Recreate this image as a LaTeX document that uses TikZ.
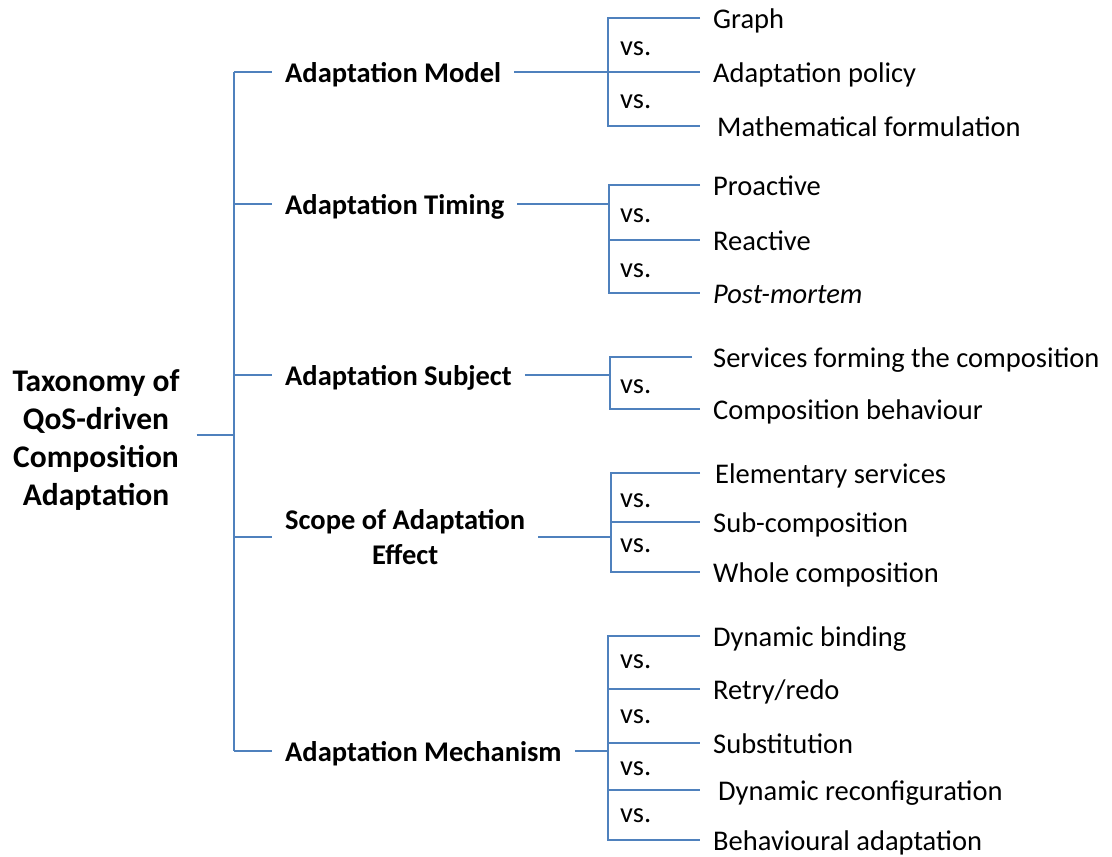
\documentclass[tikz,border=0pt]{standalone}
\usepackage{fontspec}
\setmainfont{Carlito}
\definecolor{linkblue}{HTML}{4F81BD}
\begin{document}
\begin{tikzpicture}[x=1pt,y=-1pt,
  link/.style={draw=linkblue, line width=1.6pt, line join=miter},
  rootlabel/.style={font=\bfseries\fontsize{31.5}{38}\selectfont, align=center, inner xsep=17pt, inner ysep=0pt},
  cat/.style={font=\bfseries\fontsize{28.5}{35}\selectfont, anchor=west, inner xsep=13pt, inner ysep=0pt, text height=21pt, text depth=0pt},
  cattwo/.style={font=\bfseries\fontsize{28.5}{35}\selectfont, align=center, anchor=west, inner xsep=13pt, inner ysep=0pt},
  leaf/.style={font=\fontsize{28.5}{34}\selectfont, anchor=west, inner xsep=13pt, inner ysep=0pt, text height=21pt, text depth=0pt},
  versus/.style={font=\fontsize{28.5}{34}\selectfont, anchor=base west, inner sep=0pt}]
\useasboundingbox (0,0) rectangle (1112,857);

% root and trunk
\node[rootlabel] (root) at (96,440) {Taxonomy of\\QoS-driven\\Composition\\Adaptation};
\coordinate (rj) at (234,435);
\coordinate (j1) at (234,72);
\coordinate (j2) at (234,204);
\coordinate (j3) at (234,375);
\coordinate (j4) at (234,537);
\coordinate (j5) at (234,751);
\draw[link] (root.east |- rj) -- (rj);
\draw[link] (j1) -- (j5);

% categories
\node[cat] (c1) at (272,72) {Adaptation Model};
\node[cat] (c2) at (272,204) {Adaptation Timing};
\node[cat] (c3) at (272,375) {Adaptation Subject};
\node[cattwo] (c4) at (272,537) {Scope of Adaptation\\Effect};
\node[cat] (c5) at (272,751) {Adaptation Mechanism};
\foreach \i in {1,...,5} \draw[link] (j\i) -- (c\i.west);

% Adaptation Model
\coordinate (b1t) at (608,18);
\coordinate (b1m) at (608,72);
\coordinate (b1b) at (608,126);
\node[leaf] (l11) at (700,18) {Graph};
\node[leaf] (l12) at (700,72) {Adaptation policy};
\node[leaf, inner xsep=17pt] (l13) at (700,126) {Mathematical formulation};
\draw[link] (c1.east) -- (b1m);
\draw[link] (l11.west) -- (b1t) -- (b1b) -- (l13.west);
\draw[link] (b1m) -- (l12.west);
\node[versus] (v11) at (620,55) {vs.};
\node[versus] (v12) at (620,108) {vs.};

% Adaptation Timing
\coordinate (b2t) at (609,185);
\coordinate (b2s) at (609,204);
\coordinate (b2m) at (609,240);
\coordinate (b2b) at (609,293);
\node[leaf] (l21) at (700,185) {Proactive};
\node[leaf] (l22) at (700,240) {Reactive};
\node[leaf] (l23) at (700,293) {\itshape Post-mortem};
\draw[link] (c2.east) -- (b2s);
\draw[link] (l21.west) -- (b2t) -- (b2b) -- (l23.west);
\draw[link] (b2m) -- (l22.west);
\node[versus] (v21) at (620,222) {vs.};
\node[versus] (v22) at (620,277) {vs.};

% Adaptation Subject
\coordinate (b3t) at (610,357);
\coordinate (b3s) at (610,375);
\coordinate (b3b) at (610,409);
\node[leaf] (l31) at (700,357) {Services forming the composition};
\node[leaf] (l32) at (700,409) {Composition behaviour};
\draw[link] (c3.east) -- (b3s);
\draw[link] ([xshift=-8pt]l31.west) -- (b3t) -- (b3b) -- (l32.west);
\node[versus] (v31) at (620,393) {vs.};

% Scope of Adaptation Effect
\coordinate (b4t) at (611,473);
\coordinate (b4m) at (611,522);
\coordinate (b4s) at (611,537);
\coordinate (b4b) at (611,572);
\node[leaf, inner xsep=15pt] (l41) at (700,473) {Elementary services};
\node[leaf] (l42) at (700,522) {Sub-composition};
\node[leaf] (l43) at (700,572) {Whole composition};
\draw[link] (c4.east |- b4s) -- (b4s);
\draw[link] (l41.west) -- (b4t) -- (b4b) -- (l43.west);
\draw[link] (b4m) -- (l42.west);
\node[versus] (v41) at (620,507) {vs.};
\node[versus] (v42) at (620,552) {vs.};

% Adaptation Mechanism
\coordinate (b5t) at (608,636);
\coordinate (b5a) at (608,689);
\coordinate (b5m) at (608,743);
\coordinate (b5s) at (608,751);
\coordinate (b5c) at (608,790);
\coordinate (b5b) at (608,840);
\node[leaf] (l51) at (700,636) {Dynamic binding};
\node[leaf] (l52) at (700,689) {Retry/redo};
\node[leaf] (l53) at (700,743) {Substitution};
\node[leaf, inner xsep=18pt] (l54) at (700,790) {Dynamic reconfiguration};
\node[leaf] (l55) at (700,840) {Behavioural adaptation};
\draw[link] (c5.east) -- (b5s);
\draw[link] (l51.west) -- (b5t) -- (b5b) -- (l55.west);
\draw[link] (b5a) -- (l52.west);
\draw[link] (b5m) -- (l53.west);
\draw[link] (b5c) -- (l54.west);
\node[versus] (v51) at (620,668) {vs.};
\node[versus] (v52) at (620,723) {vs.};
\node[versus] (v53) at (620,775) {vs.};
\node[versus] (v54) at (620,822) {vs.};
\end{tikzpicture}
\end{document}
